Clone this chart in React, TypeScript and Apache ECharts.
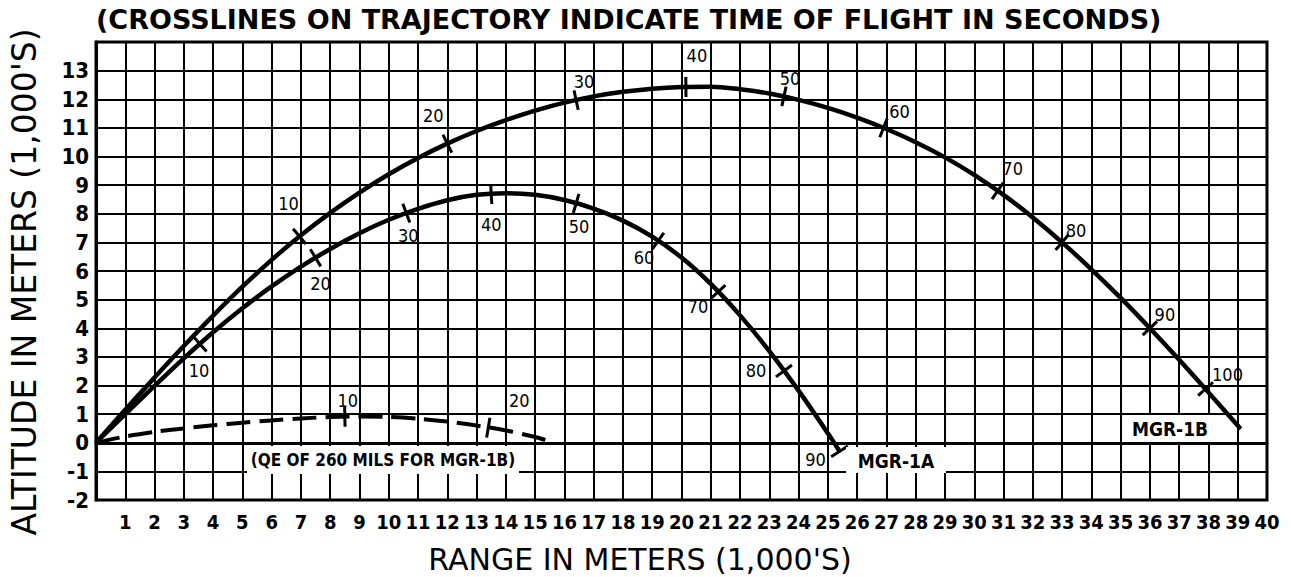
import React, { useEffect, useRef } from 'react';
import * as echarts from 'echarts';

// ---------- data (range in 1,000 m, altitude in 1,000 m) ----------
const mgr1B: [number, number][] = [
  [0, 0], [1, 1.15], [2, 2.28], [3, 3.38], [4, 4.44], [5, 5.45], [6, 6.39], [7, 7.25],
  [8, 8.03], [9, 8.74], [10, 9.38], [11, 9.95], [12, 10.45], [13, 10.89], [14, 11.27],
  [15, 11.6], [16, 11.88], [17, 12.1], [18, 12.26], [19, 12.37], [20, 12.43], [21, 12.44],
  [22, 12.35], [23, 12.2], [24, 11.98], [25, 11.7], [26, 11.36], [27, 10.96], [28, 10.5],
  [29, 9.97], [30, 9.36], [31, 8.66], [32, 7.87], [33, 7.0], [34, 6.06], [35, 5.06],
  [36, 4.0], [37, 2.9], [38, 1.76], [39, 0.6], [39.1, 0.48],
];
const mgr1A: [number, number][] = [
  [0, 0], [1, 1.0], [2, 1.99], [3, 2.95], [4, 3.86], [5, 4.7], [6, 5.46], [7, 6.15],
  [8, 6.77], [9, 7.32], [10, 7.79], [11, 8.17], [12, 8.47], [13, 8.66], [14, 8.72],
  [15, 8.66], [16, 8.48], [17, 8.18], [18, 7.76], [19, 7.2], [20, 6.47], [21, 5.55],
  [22, 4.45], [23, 3.2], [24, 1.82], [25, 0.33], [25.4, -0.3],
];
const qe260: [number, number][] = [
  [0, 0], [1, 0.22], [2, 0.38], [3, 0.5], [4, 0.61], [5, 0.7], [6, 0.78], [7, 0.85],
  [8, 0.9], [9, 0.92], [10, 0.9], [11, 0.84], [12, 0.74], [13, 0.6], [14, 0.43],
  [15, 0.2], [15.4, 0.08],
];

// time-of-flight crosslines: [range, altitude, seconds]
const mgr1BTimes: [number, number, number][] = [
  [6.95, 7.21, 10], [12.0, 10.45, 20], [16.4, 11.97, 30], [20.15, 12.43, 40], [23.5, 12.1, 50],
  [26.9, 11.0, 60], [30.8, 8.8, 70], [33.0, 7.0, 80], [36.0, 4.0, 90], [37.9, 1.88, 100],
];
const mgr1ATimes: [number, number, number][] = [
  [3.55, 3.45, 10], [7.5, 6.46, 20], [10.6, 8.02, 30], [13.5, 8.69, 40], [16.4, 8.36, 50],
  [19.2, 7.05, 60], [21.25, 5.27, 70], [23.5, 2.51, 80], [25.4, -0.3, 90],
];
const qe260Times: [number, number, number][] = [
  [8.5, 0.91, 10], [13.4, 0.53, 20],
];

const xTickLabels = ['1', '2', '3', '4', '5', '6', '7', '8', '9', '10', '11', '12', '13', '14', '15',
  '16', '17', '18', '19', '20', '21', '22', '23', '24', '25', '26', '27', '28', '29', '30', '31',
  '32', '33', '34', '35', '36', '37', '38', '39', '40'];
const yTickLabels = ['-2', '-1', '0', '1', '2', '3', '4', '5', '6', '7', '8', '9', '10', '11', '12', '13'];

const titleText = '(CROSSLINES ON TRAJECTORY INDICATE TIME OF FLIGHT IN SECONDS)';
const xName = "RANGE IN METERS (1,000'S)";
const yName = "ALTITUDE IN METERS (1,000'S)";
const mgr1AName = 'MGR-1A';
const mgr1BName = 'MGR-1B';
const qeName = '(QE OF 260 MILS FOR MGR-1B)';

// ---------- layout (label offsets in px from each crossline) ----------
const mgr1BLabelOffsets: [number, number][] = [
  [-11, -33], [-14, -28], [8, -19], [11, -31], [6, -18], [16, -16], [15, -22], [14, -12], [15, -14], [22, -14],
];
const mgr1ALabelOffsets: [number, number][] = [
  [-1, 27], [5, 26], [2, 22], [0, 31], [3, 23], [-14, 17], [-20, 15], [-28, 0], [-24, 8],
];
const qe260LabelOffsets: [number, number][] = [[3, -16], [31, -27]];

const COND = '"DejaVu Sans Condensed", "Liberation Sans Narrow", "DejaVu Sans", sans-serif';
const SANS = '"DejaVu Sans", "Liberation Sans", sans-serif';

function segmentAt(traj: [number, number][], x: number): [[number, number], [number, number]] {
  for (let i = 0; i < traj.length - 1; i++) {
    if (x >= traj[i][0] && x <= traj[i + 1][0]) return [traj[i], traj[i + 1]];
  }
  return [traj[traj.length - 2], traj[traj.length - 1]];
}

function crossSeries(traj: [number, number][], times: [number, number, number][], offsets: [number, number][]) {
  return {
    type: 'custom',
    clip: false,
    z: 5,
    data: times,
    encode: { x: 0, y: 1 },
    renderItem: (params: any, api: any) => {
      const x = api.value(0);
      const y = api.value(1);
      const t = api.value(2);
      const p = api.coord([x, y]);
      const [a, b] = segmentAt(traj, x);
      const pa = api.coord(a);
      const pb = api.coord(b);
      let dx = pb[0] - pa[0];
      let dy = pb[1] - pa[1];
      const len = Math.hypot(dx, dy) || 1;
      dx /= len; dy /= len;
      const nx = -dy, ny = dx;
      const L = 10;
      const off = offsets[params.dataIndex] || [0, 0];
      return {
        type: 'group',
        children: [
          {
            type: 'line',
            shape: { x1: p[0] - nx * L, y1: p[1] - ny * L, x2: p[0] + nx * L, y2: p[1] + ny * L },
            style: { stroke: '#000', lineWidth: 3 },
          },
          {
            type: 'text',
            x: p[0] + off[0],
            y: p[1] + off[1],
            style: { text: String(t), fill: '#000', font: `18px ${COND}`, align: 'center', verticalAlign: 'middle' },
          },
        ],
      };
    },
  };
}

export default function App() {
  const ref = useRef<HTMLDivElement>(null);
  useEffect(() => {
    if (!ref.current) return;
    const chart = echarts.init(ref.current, undefined, { renderer: 'svg' });
    const option: any = {
      animation: false,
      backgroundColor: '#fff',
      grid: { left: 96, top: 42, right: 24, bottom: 77, show: true, borderColor: '#000', borderWidth: 3, backgroundColor: 'transparent' },
      xAxis: {
        type: 'value', min: 0, max: 40, interval: 1,
        axisLine: { show: true, lineStyle: { color: '#000', width: 3 } },
        axisTick: { show: false },
        splitLine: { show: true, lineStyle: { color: '#000', width: 2 } },
        axisLabel: {
          margin: 12,
          color: '#000',
          fontFamily: COND, fontWeight: 'bold', fontSize: 20,
          formatter: (v: number) => (v >= 1 ? xTickLabels[Math.round(v) - 1] : ''),
        },
      },
      yAxis: {
        type: 'value', min: -2, max: 14, interval: 1,
        axisLine: { show: true, lineStyle: { color: '#000', width: 3 } },
        axisTick: { show: false },
        splitLine: { show: true, lineStyle: { color: '#000', width: 2 } },
        axisLabel: {
          margin: 7,
          color: '#000',
          verticalAlign: 'middle',
          padding: [0, 0, 14, 0],
          fontFamily: COND, fontWeight: 'bold', fontSize: 22,
          formatter: (v: number) => {
            const i = Math.round(v) + 2;
            return i >= 0 && i < yTickLabels.length ? yTickLabels[i] : '';
          },
        },
      },
      series: [
        { type: 'line', data: mgr1B, smooth: 0.3, symbol: 'none', lineStyle: { color: '#000', width: 4.5 }, z: 4 },
        { type: 'line', data: mgr1A, smooth: 0.3, symbol: 'none', lineStyle: { color: '#000', width: 4.5 }, z: 4 },
        { type: 'line', data: qe260, smooth: 0.3, symbol: 'none', lineStyle: { color: '#000', width: 4, type: [24, 9] }, z: 4 },
        crossSeries(mgr1B, mgr1BTimes, mgr1BLabelOffsets),
        crossSeries(mgr1A, mgr1ATimes, mgr1ALabelOffsets),
        crossSeries(qe260, qe260Times, qe260LabelOffsets),
      ],
      graphic: {
        elements: [
          { type: 'text', left: 96, top: 6, z: 100, style: { text: titleText, fill: '#000', font: `bold 27px ${SANS}` } },
          { type: 'text', x: 640, y: 559, z: 100, style: { text: xName, fill: '#000', font: `30px ${SANS}`, align: 'center', verticalAlign: 'middle' } },
          { type: 'text', x: 24, y: 282, rotation: Math.PI / 2, z: 100, style: { text: yName, fill: '#000', font: `33px ${SANS}`, align: 'center', verticalAlign: 'middle' } },
          { type: 'rect', z: 100, shape: { x: 247, y: 446, width: 272, height: 28 }, style: { fill: '#fff' } },
          { type: 'text', x: 383, y: 460, z: 101, style: { text: qeName, fill: '#000', font: `bold 17px ${COND}`, align: 'center', verticalAlign: 'middle' } },
          { type: 'rect', z: 100, shape: { x: 846, y: 447, width: 100, height: 26 }, style: { fill: '#fff' } },
          { type: 'text', x: 896, y: 461, z: 101, style: { text: mgr1AName, fill: '#000', font: `bold 19px ${COND}`, align: 'center', verticalAlign: 'middle' } },
          { type: 'rect', z: 100, shape: { x: 1124, y: 415, width: 96, height: 27 }, style: { fill: '#fff' } },
          { type: 'text', x: 1170, y: 429, z: 101, style: { text: mgr1BName, fill: '#000', font: `bold 19px ${COND}`, align: 'center', verticalAlign: 'middle' } },
        ],
      },
    };
    chart.setOption(option);
    return () => chart.dispose();
  }, []);
  return <div ref={ref} style={{ position: 'fixed', left: 0, top: 0, width: 1291, height: 577, background: '#fff' }} />;
}
